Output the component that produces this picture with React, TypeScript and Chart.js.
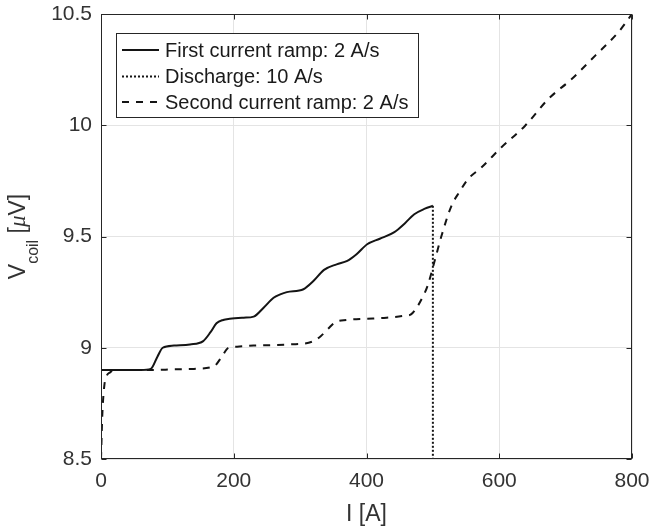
import React, { useEffect, useRef } from "react";
import { Chart, registerables } from "chart.js";

Chart.register(...registerables);

// ---- data ----
const xTicks = [0, 200, 400, 600, 800];
const yTicks = [8.5, 9, 9.5, 10, 10.5];
const seriesLabels = [
  "First current ramp: 2 A/s",
  "Discharge: 10 A/s",
  "Second current ramp: 2 A/s",
];
const xTitle = "I [A]";

const firstI = [0, 0, 20, 60, 75, 85, 93, 110, 134, 154, 165, 174, 184, 194, 215, 230, 245, 260, 270, 280, 305, 320, 336, 355, 371, 385, 401, 420, 442, 458, 472, 488, 500];
const firstV = [8.5, 8.9, 8.9, 8.9, 8.905, 8.96, 9.0, 9.01, 9.015, 9.03, 9.07, 9.11, 9.125, 9.13, 9.135, 9.14, 9.18, 9.225, 9.24, 9.25, 9.263, 9.3, 9.35, 9.375, 9.39, 9.42, 9.465, 9.49, 9.52, 9.56, 9.6, 9.625, 9.638];

const dischargeI = [500, 500];
const dischargeV = [9.638, 8.5];

const secondI = [0, 2, 5, 8, 14, 20, 40, 60, 80, 108, 140, 165, 172, 182, 192, 205, 230, 260, 285, 318, 331, 342, 353, 370, 401, 430, 460, 467, 477, 485, 492, 502, 513, 528, 540, 553, 573, 603, 639, 674, 710, 745, 780, 800];
const secondV = [8.5, 8.7, 8.83, 8.87, 8.89, 8.9, 8.9, 8.9, 8.9, 8.903, 8.905, 8.912, 8.92, 8.96, 9.0, 9.005, 9.01, 9.012, 9.015, 9.027, 9.052, 9.085, 9.115, 9.125, 9.13, 9.135, 9.145, 9.15, 9.187, 9.23, 9.278, 9.383, 9.503, 9.638, 9.7, 9.758, 9.81, 9.9, 9.998, 10.118, 10.21, 10.314, 10.42, 10.5];

const FONT = "'Liberation Sans', Arial, Helvetica, sans-serif";
const TEXT = "#333333";
const AXIS = "#262626";
const LINE = "#141414";
const DASHES: number[][] = [[], [2, 2], [7, 7]];

const toXY = (xs: number[], ys: number[]) => xs.map((x, i) => ({ x, y: ys[i] }));

const decorPlugin = {
  id: "decor",
  afterDraw(chart: any) {
    const { ctx, chartArea: a, scales } = chart;
    const xs = scales.x;
    const ys = scales.y;
    ctx.save();
    // frame
    ctx.strokeStyle = AXIS;
    ctx.lineWidth = 1;
    ctx.setLineDash([]);
    const L = Math.round(a.left) + 0.5;
    const R = Math.round(a.right) - 0.5;
    const T = Math.round(a.top) + 0.5;
    const B = Math.round(a.bottom) - 0.5;
    ctx.strokeRect(L, T, R - L, B - T);
    // inward ticks
    const tl = 5;
    ctx.beginPath();
    xTicks.forEach((v) => {
      const px = Math.round(xs.getPixelForValue(v)) + 0.5;
      ctx.moveTo(px, B);
      ctx.lineTo(px, B - tl);
      ctx.moveTo(px, T);
      ctx.lineTo(px, T + tl);
    });
    yTicks.forEach((v) => {
      const py = Math.round(ys.getPixelForValue(v)) + 0.5;
      ctx.moveTo(L, py);
      ctx.lineTo(L + tl, py);
      ctx.moveTo(R, py);
      ctx.lineTo(R - tl, py);
    });
    ctx.stroke();

    // x title
    ctx.fillStyle = TEXT;
    ctx.font = `23px ${FONT}`;
    ctx.textAlign = "center";
    ctx.textBaseline = "alphabetic";
    ctx.fillText(xTitle, (a.left + a.right) / 2, 521);

    // y title: V_coil [\mu V]
    ctx.save();
    ctx.translate(25, (a.top + a.bottom) / 2);
    ctx.rotate(-Math.PI / 2);
    ctx.textAlign = "left";
    const mainF = `23px ${FONT}`;
    const subF = `16px ${FONT}`;
    const muF = `italic 23px 'Liberation Serif', 'DejaVu Serif', serif`;
    const parts = [
      { t: "V", f: mainF, dy: 0 },
      { t: "coil", f: subF, dy: 13 },
      { t: " [", f: mainF, dy: 0 },
      { t: "\u03bc", f: muF, dy: 0 },
      { t: "V]", f: mainF, dy: 0 },
    ];
    let total = 0;
    parts.forEach((p) => {
      ctx.font = p.f;
      total += ctx.measureText(p.t).width;
    });
    let cx = -total / 2;
    parts.forEach((p) => {
      ctx.font = p.f;
      ctx.fillText(p.t, cx, p.dy);
      cx += ctx.measureText(p.t).width;
    });
    ctx.restore();

    // legend
    const lx = 116.5, ly = 33.5, lw = 302, lh = 84;
    ctx.fillStyle = "#ffffff";
    ctx.fillRect(lx, ly, lw, lh);
    ctx.strokeStyle = AXIS;
    ctx.lineWidth = 1;
    ctx.setLineDash([]);
    ctx.strokeRect(lx, ly, lw, lh);
    const rows = [50, 76.5, 102];
    ctx.font = `20px ${FONT}`;
    ctx.textAlign = "left";
    ctx.textBaseline = "middle";
    seriesLabels.forEach((lab, i) => {
      ctx.strokeStyle = LINE;
      ctx.lineWidth = 2;
      ctx.setLineDash(DASHES[i]);
      ctx.beginPath();
      ctx.moveTo(122, rows[i]);
      ctx.lineTo(159, rows[i]);
      ctx.stroke();
      ctx.setLineDash([]);
      ctx.fillStyle = "#1a1a1a";
      ctx.fillText(lab, 165, rows[i] + 1);
    });
    ctx.restore();
  },
};

export default function App() {
  const ref = useRef<HTMLCanvasElement | null>(null);
  useEffect(() => {
    if (!ref.current) return;
    const series = [toXY(firstI, firstV), toXY(dischargeI, dischargeV), toXY(secondI, secondV)];
    const chart = new Chart(ref.current, {
      type: "scatter",
      data: {
        datasets: series.map((d, i) => ({
          label: seriesLabels[i],
          data: d,
          showLine: true,
          borderColor: LINE,
          backgroundColor: LINE,
          borderWidth: 2,
          borderDash: DASHES[i],
          pointRadius: 0,
          pointHoverRadius: 0,
          cubicInterpolationMode: i === 1 ? "default" : "monotone",
          tension: 0,
          fill: false,
        })),
      },
      options: {
        responsive: false,
        animation: false,
        devicePixelRatio: 1,
        layout: { padding: { left: 0, top: 14, right: 18, bottom: 0 } },
        plugins: { legend: { display: false }, tooltip: { enabled: false } },
        scales: {
          x: {
            type: "linear",
            min: 0,
            max: 800,
            afterBuildTicks: (s: any) => {
              s.ticks = xTicks.map((v) => ({ value: v }));
            },
            ticks: {
              font: { family: FONT, size: 21 },
              color: TEXT,
              padding: 10,
              maxRotation: 0,
              callback: (v: any) => String(v),
            },
            grid: { color: "#e4e4e4", drawTicks: false, lineWidth: 1 },
            border: { display: false },
            afterFit: (s: any) => {
              s.height = 69;
              s.paddingLeft = 0;
              s.paddingRight = 0;
              s.paddingTop = 0;
              s.paddingBottom = 0;
            },
          },
          y: {
            type: "linear",
            min: 8.5,
            max: 10.5,
            afterBuildTicks: (s: any) => {
              s.ticks = yTicks.map((v) => ({ value: v }));
            },
            ticks: {
              font: { family: FONT, size: 21 },
              color: TEXT,
              padding: 9,
              callback: (v: any) => String(v),
            },
            grid: { color: "#e4e4e4", drawTicks: false, lineWidth: 1 },
            border: { display: false },
            afterFit: (s: any) => {
              s.width = 101;
              s.paddingLeft = 0;
              s.paddingRight = 0;
              s.paddingTop = 0;
              s.paddingBottom = 0;
            },
          },
        },
      },
      plugins: [decorPlugin],
    } as any);
    return () => chart.destroy();
  }, []);
  return (
    <div style={{ position: "absolute", left: 0, top: 0, width: 650, height: 528, background: "#fff" }}>
      <canvas ref={ref} width={650} height={528} />
    </div>
  );
}
